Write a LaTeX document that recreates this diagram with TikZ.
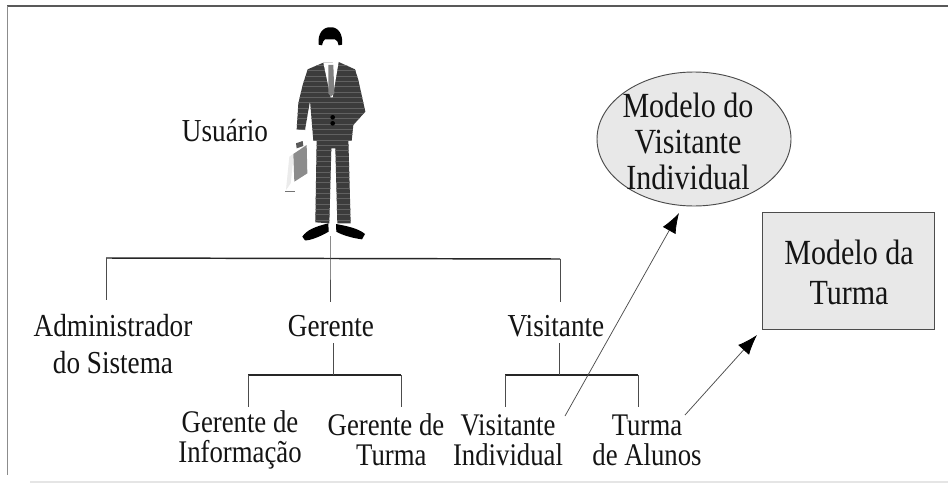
\documentclass[tikz,border=0pt]{standalone}
\usepackage{fontspec}
\setmainfont[FakeStretch=0.85]{Liberation Serif}
\usetikzlibrary{arrows.meta,shapes.geometric}
\definecolor{suitgray}{HTML}{3C3C3C}
\definecolor{modelfill}{HTML}{E8E8E8}
\definecolor{ink}{HTML}{141414}
\tikzset{
  rolelarge/.style={inner sep=0pt,align=center,text=ink,font=\fontsize{24}{27.75}\selectfont},
  rolesmall/.style={inner sep=0pt,align=center,text=ink,font=\fontsize{23.6}{22.5}\selectfont},
  modeltext/.style={inner sep=0pt,align=center,text=ink,font=\fontsize{26.5}{27}\selectfont},
  modelshape/.style={draw=black!70,fill=modelfill,line width=0.7pt,inner sep=0pt},
  treebar/.style={draw=black!85,line width=1.1pt},
  treestem/.style={draw=black!70,line width=0.6pt},
  link/.style={draw=black!70,line width=0.55pt,-{Latex[length=15pt,width=11pt,black]},shorten >=0pt},
}
\begin{document}
\begin{tikzpicture}[x=0.75pt,y=-0.75pt]
\useasboundingbox (0,0) rectangle (948,485);
\fill[white] (0,0) rectangle (948,485);

% outer frame, only partly printed
\draw[black!65,line width=1.3pt] (7,6) -- (948,6);
\draw[black!45,line width=0.7pt] (7,6) -- (7,475);
\draw[black!10,line width=0.8pt] (30,482) -- (948,482);

% standing figure with briefcase
\begin{scope}[shift={(260,10)},x=0.25pt,y=-0.25pt]
  \fill[black!8] (78,540) -- (88,440) -- (100,432) -- (100,445) -- (92,520) -- cycle;
  \fill[black!55] (75,543) rectangle (105,547);
  \fill[black!45] (100,432) -- (140,405) -- (142,490) -- (103,515) -- cycle;
  \fill[black!65] (108,400) -- (128,393) -- (130,408) -- (110,415) -- cycle;
  % trousers and jacket share a faint woven texture
  \begin{scope}
    \clip (170,385) -- (166,637) -- (208,640) -- (214,415) -- (226,415) -- (232,640) -- (272,640) -- (265,385) -- cycle
      (190,158) -- (143,178) -- (128,225) -- (115,280) -- (110,358) -- (135,360)
      -- (150,272) -- (160,392) -- (275,392) -- (280,345) -- (316,305) -- (295,210) -- (285,178) -- (236,156) -- cycle;
    \fill[suitgray] (100,150) rectangle (320,650);
    \foreach \ry in {150,166,...,650} \draw[black!62,line width=0.3pt] (100,\ry) -- (320,\ry);
  \end{scope}
  \fill[white] (190,158) -- (236,156) -- (218,262) -- (212,262) -- cycle;
  \fill[black!50] (205,165) -- (220,165) -- (223,250) -- (213,260) -- (205,250) -- cycle;
  \fill[black] (218,322) circle (7);
  \fill[black] (218,340) circle (7);
  \fill[black] (127,680) .. controls (140,660) and (165,650) .. (205,640) -- (206,665) .. controls (180,680) and (150,692) .. (135,691) -- cycle;
  \fill[black] (228,642) .. controls (260,648) and (295,655) .. (315,672) -- (306,688) .. controls (280,685) and (245,675) .. (229,665) -- cycle;
  \fill[black] (176,104) .. controls (172,70) and (190,50) .. (212,52) .. controls (235,50) and (250,75) .. (246,104)
     -- (236,106) .. controls (234,98) and (232,90) .. (225,88) -- (195,88) .. controls (190,90) and (188,98) .. (186,106) -- cycle;
\end{scope}

\node[rolelarge,anchor=base] (usuario) at (225,141) {Usuário};

% roles of the user
\node[rolelarge] (admin) at (113,344) {Administrador\\do Sistema};
\node[rolelarge,anchor=base] (gerente) at (331,336) {Gerente};
\node[rolelarge,anchor=base] (visitante) at (556,336) {Visitante};

\node[rolesmall] (gerinfo) at (240,440) {Gerente de\\Informação};
\node[rolesmall] (gerturma) at (386,440) {Gerente de\\\hspace*{8pt}Turma};
\node[rolesmall] (visind) at (508,440) {Visitante\\Individual};
\node[rolesmall] (turmaal) at (647,440) {Turma\\de Alunos};

% first level of the tree
\coordinate (figfoot) at (330,236);
\coordinate (barmid) at (330,258);
\coordinate (barleft) at (106,258);
\coordinate (barright) at (560,259);
\coordinate (dropadmin) at (106,300);
\coordinate (dropger) at (330,302);
\coordinate (dropvis) at (560,302);
\draw[treebar] (barleft) -- (barright);
\draw[treestem] (figfoot) -- (barmid) -- (dropger);
\draw[treestem] (barleft) -- (dropadmin);
\draw[treestem] (barright) -- (dropvis);

% second level under Gerente
\coordinate (gertop) at (333,343);
\coordinate (germid) at (333,375);
\coordinate (gerleft) at (248,375);
\coordinate (gerright) at (401,375);
\coordinate (gerdropl) at (248,407);
\coordinate (gerdropr) at (401,407);
\draw[treebar] (gerleft) -- (gerright);
\draw[treestem] (gertop) -- (germid);
\draw[treestem] (gerleft) -- (gerdropl);
\draw[treestem] (gerright) -- (gerdropr);

% second level under Visitante
\coordinate (vistop) at (559,343);
\coordinate (vismid) at (559,375);
\coordinate (visleft) at (505,375);
\coordinate (visright) at (638,375);
\coordinate (visdropl) at (505,407);
\coordinate (visdropr) at (638,407);
\draw[treebar] (visleft) -- (visright);
\draw[treestem] (vistop) -- (vismid);
\draw[treestem] (visleft) -- (visdropl);
\draw[treestem] (visright) -- (visdropr);

% user models
\node[modelshape,ellipse,minimum width=145.5pt,minimum height=100.5pt] (modelind) at (694,139) {};
\node[modeltext] (modelindtext) at (688,141) {Modelo do\\Visitante\\Individual};
\node[modelshape,rectangle,minimum width=129pt,minimum height=87.75pt] (modelturma) at (848,270.5) {};
\node[modeltext,font=\fontsize{26.5}{30}\selectfont] (modelturmatext) at (849,272) {Modelo da\\Turma};

% links from the visitor kinds to their models
\coordinate (indtail) at (565,416);
\coordinate (indtip) at (679,213);
\coordinate (turmatail) at (685,415);
\coordinate (turmatip) at (757,335);
\draw[link] (indtail) -- (indtip);
\draw[link] (turmatail) -- (turmatip);
\end{tikzpicture}
\end{document}
